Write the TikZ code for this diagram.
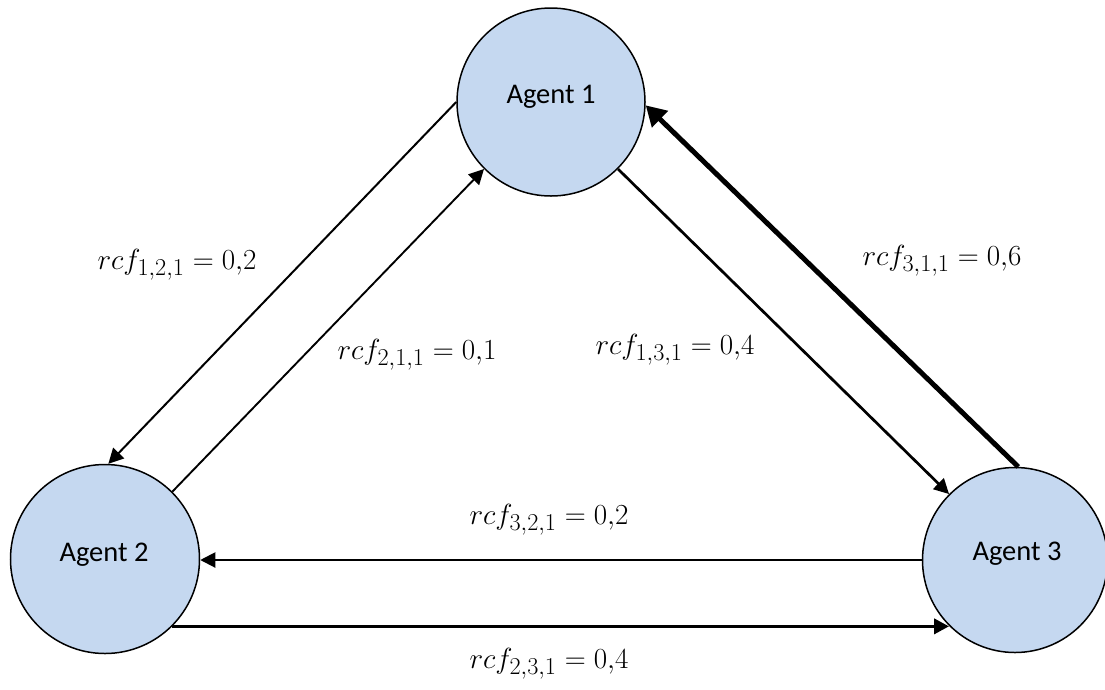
\documentclass[tikz,border=0pt]{standalone}
\usepackage{fontspec}
\newfontfamily\agentfont{Carlito}
\usetikzlibrary{arrows.meta}
\definecolor{agentfill}{RGB}{197,216,240}
\newcommand{\rcflabel}[2]{\scalebox{1.17}{$rcf_{#1} = 0{,}#2$}}
\begin{document}
\begin{tikzpicture}[x=1pt,y=-1pt,
  agent/.style={circle,draw=black,line width=1.5pt,fill=agentfill,minimum size=188pt,inner sep=0pt},
  agentlabel/.style={font=\agentfont\fontsize{28.5}{32}\selectfont,inner sep=0pt},
  rcf/.style={font=\fontsize{24.88}{30}\selectfont,inner sep=0pt},
  tip/.style={-{Triangle[length=15pt,width=15pt]}},
  bigtip/.style={-{Triangle[length=20pt,width=22pt]}},
]
\useasboundingbox (0,0) rectangle (1105,689);

\node[agent] (a1) at (551,102) {};
\node[agentlabel] (t1) at (551,97) {Agent 1};
\node[agent,minimum size=189pt] (a2) at (105,559) {};
\node[agentlabel] (t2) at (104,555) {Agent 2};
\node[agent,minimum size=185pt] (a3) at (1015,560) {};
\node[agentlabel] (t3) at (1017,554) {Agent 3};

\draw[line width=2pt,tip] (a1.180) -- (a2.88);
\draw[line width=1.9pt,tip] (a2.45) -- (a1.225);
\draw[line width=2.7pt,tip] (a1.-45) -- (a3.135);
\draw[line width=5pt,bigtip] (a3.88) -- (a1.-2);
\draw[line width=2pt,tip] (a3.180) -- (a3.180 -| a2.east);
\draw[line width=3.6pt,tip] (a2.-45) -- (a2.-45 -| a3.225);

\node[rcf] (l121) at (177,265) {\rcflabel{1,2,1}{2}};
\node[rcf] (l211) at (417,355) {\rcflabel{2,1,1}{1}};
\node[rcf] (l131) at (675,350) {\rcflabel{1,3,1}{4}};
\node[rcf] (l311) at (942,261) {\rcflabel{3,1,1}{6}};
\node[rcf] (l321) at (549,520) {\rcflabel{3,2,1}{2}};
\node[rcf] (l231) at (549,664) {\rcflabel{2,3,1}{4}};
\end{tikzpicture}
\end{document}
